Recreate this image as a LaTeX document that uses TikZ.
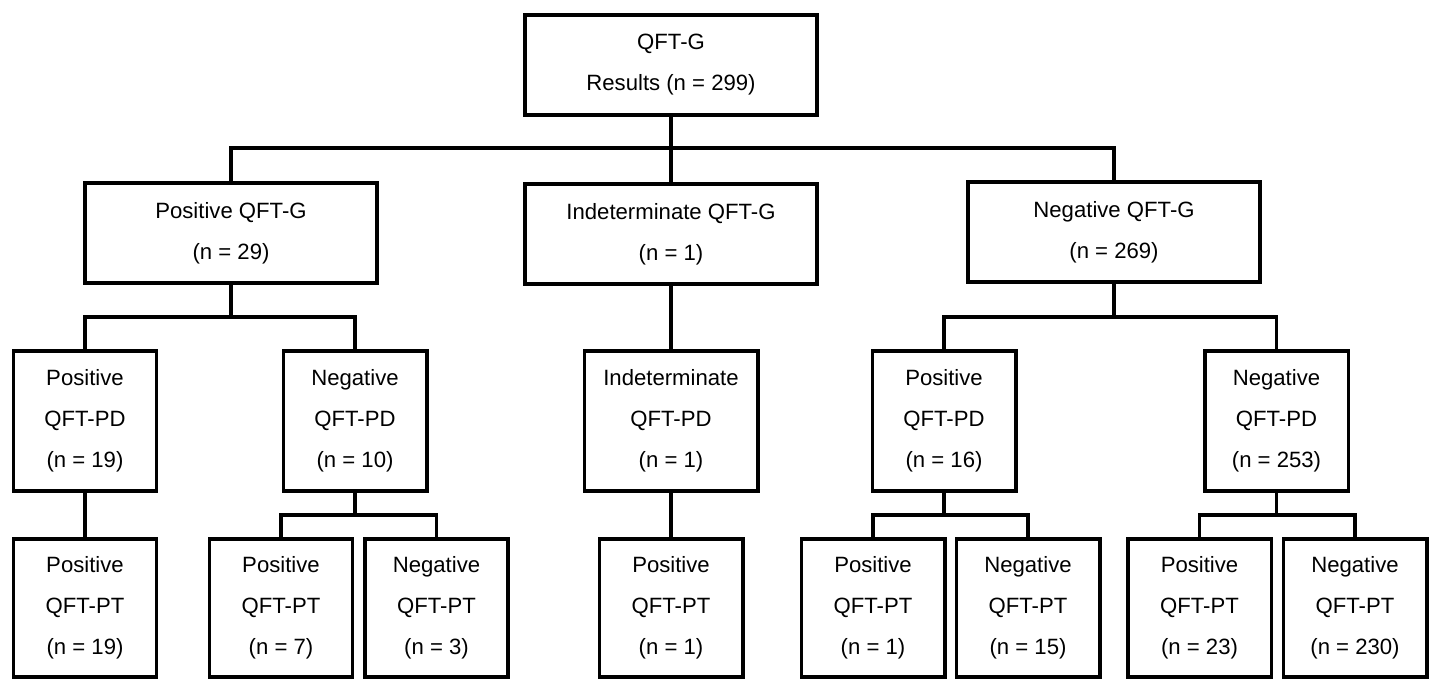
\documentclass[tikz,border=0pt]{standalone}
\usepackage{fontspec}
\setmainfont{Liberation Sans}

\begin{document}
\begin{tikzpicture}[x=0.02cm, y=-0.02cm,
    box/.style={draw, rectangle, line width=2pt, inner sep=0pt, align=center,
        font=\fontsize{12.6}{23.3}\selectfont},
    gbox/.style={box, minimum width=5.85cm, minimum height=2cm},
    pdbox/.style={box, minimum width=2.87cm, minimum height=2.81cm},
    ptbox/.style={box, minimum width=2.87cm, minimum height=2.77cm},
    link/.style={line width=2pt}]
    \useasboundingbox (0,0) rectangle (1432,681);

    % Overall results
    \node[box, minimum width=5.85cm, minimum height=2.01cm] (res) at (671,65) {QFT-G\\Results (n = 299)};

    % QFT-G outcome
    \node[gbox] (posG) at (231,233) {Positive QFT-G\\(n = 29)};
    \node[gbox] (indG) at (671,234) {Indeterminate QFT-G\\(n = 1)};
    \node[gbox] (negG) at (1114,232) {Negative QFT-G\\(n = 269)};

    % QFT-PD outcome
    \node[pdbox] (posPDa) at (85,421) {Positive\\QFT-PD\\(n = 19)};
    \node[pdbox] (negPDa) at (355,421) {Negative\\QFT-PD\\(n = 10)};
    \node[pdbox, minimum width=3.47cm] (indPD) at (671,421) {Indeterminate\\QFT-PD\\(n = 1)};
    \node[pdbox] (posPDb) at (944,421) {Positive\\QFT-PD\\(n = 16)};
    \node[pdbox] (negPDb) at (1276.5,421) {Negative\\QFT-PD\\(n = 253)};

    % QFT-PT outcome
    \foreach \name/\x/\res/\n in {posPTa/85/Positive/19, posPTb/281/Positive/7,
        negPTb/436.5/Negative/3, posPTc/671/Positive/1, posPTd/873/Positive/1,
        negPTd/1028/Negative/15, posPTe/1199.5/Positive/23, negPTe/1355/Negative/230} {
        \node[ptbox] (\name) at (\x,608) {\res\\QFT-PT\\(n = \n)};
    }

    % Bus lines
    \coordinate (busG) at (0,148);
    \coordinate (busPD) at (0,317);
    \coordinate (busPT) at (0,515);

    % Connectors
    \draw[link] (res.south) -- (indG.north);
    \draw[link] (posG.north) |- (res.south |- busG) -| (negG.north);

    \draw[link] (posG.south) -- (posG.south |- busPD);
    \draw[link] (posPDa.north) |- (posG.south |- busPD) -| (negPDa.north);
    \draw[link] (indG.south) -- (indPD.north);
    \draw[link] (negG.south) -- (negG.south |- busPD);
    \draw[link] (posPDb.north) |- (negG.south |- busPD) -| (negPDb.north);

    \draw[link] (posPDa.south) -- (posPTa.north);
    \draw[link] (negPDa.south) -- (negPDa.south |- busPT);
    \draw[link] (posPTb.north) |- (negPDa.south |- busPT) -| (negPTb.north);
    \draw[link] (indPD.south) -- (posPTc.north);
    \draw[link] (posPDb.south) -- (posPDb.south |- busPT);
    \draw[link] (posPTd.north) |- (posPDb.south |- busPT) -| (negPTd.north);
    \draw[link] (negPDb.south) -- (negPDb.south |- busPT);
    \draw[link] (posPTe.north) |- (negPDb.south |- busPT) -| (negPTe.north);
\end{tikzpicture}
\end{document}
